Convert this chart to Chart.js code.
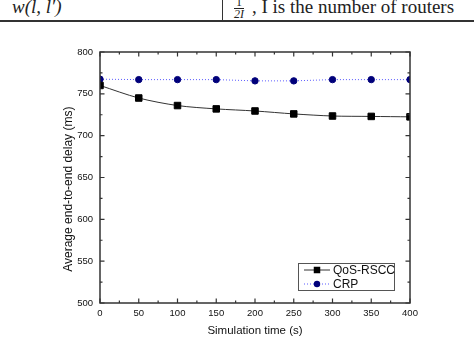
<!DOCTYPE html>
<html><head><meta charset="utf-8">
<script src="https://cdn.jsdelivr.net/npm/chart.js@4.4.1/dist/chart.umd.min.js"></script>
<style>
html,body{margin:0;padding:0;background:#fff;}
#wrap{position:relative;width:474px;height:361px;overflow:hidden;}
#c{position:absolute;left:0;top:0;}
.t{position:absolute;font-family:"Liberation Serif","DejaVu Serif",serif;color:#222;white-space:nowrap;}
</style></head>
<body><div id="wrap">
<div class="t" style="left:12px;top:-4px;font-size:19px;font-style:italic;">w(l, l′)</div>
<div class="t" style="left:234px;top:-3px;font-size:12px;line-height:11px;text-align:center;"><div style="border-bottom:1px solid #222;padding:0 1px;">1</div><div style="font-style:italic;">2I</div></div>
<div class="t" style="left:252px;top:-4px;font-size:19px;">, I is the number of routers</div>
<div style="position:absolute;left:0;top:20px;width:474px;height:41px;background:#fff;"></div>
<div style="position:absolute;left:222px;top:0;width:1px;height:21px;background:#333;"></div>
<div style="position:absolute;left:0;top:20px;width:474px;height:1.5px;background:#333;"></div>
<canvas id="c" width="474" height="361"></canvas>
</div>
<script>
const times = [0, 50, 100, 150, 200, 250, 300, 350, 400];
const qosRscc = [760, 745, 736, 732, 729.5, 726, 723.5, 723, 722.5];
const crp = [767.5, 767, 767, 767, 765.5, 765.5, 767, 767, 767];
const yTicks = [500, 550, 600, 650, 700, 750, 800];
const xTicks = [0, 50, 100, 150, 200, 250, 300, 350, 400];

const boxPlugin = {
  id: 'boxPlugin',
  afterDraw(chart) {
    const ctx = chart.ctx, a = chart.chartArea;
    const xs = chart.scales.x, ys = chart.scales.y;
    ctx.save();
    ctx.strokeStyle = '#333';
    ctx.lineWidth = 1.5;
    ctx.strokeRect(a.left, a.top, a.right - a.left, a.bottom - a.top);
    ctx.lineWidth = 1.2;
    ctx.beginPath();
    for (let v = 0; v <= 400; v += 25) {
      const px = xs.getPixelForValue(v);
      const L = (v % 50 === 0) ? 4.5 : 2.5;
      ctx.moveTo(px, a.bottom); ctx.lineTo(px, a.bottom - L);
      ctx.moveTo(px, a.top); ctx.lineTo(px, a.top + L);
    }
    for (let v = 500; v <= 800; v += 25) {
      const py = ys.getPixelForValue(v);
      const L = (v % 50 === 0) ? 4.5 : 2.5;
      ctx.moveTo(a.left, py); ctx.lineTo(a.left + L, py);
      ctx.moveTo(a.right, py); ctx.lineTo(a.right - L, py);
    }
    ctx.stroke();
    // legend
    const lx = 298, ly = 263, lw = 96, lh = 27;
    ctx.fillStyle = '#fff';
    ctx.fillRect(lx, ly, lw, lh);
    ctx.strokeStyle = '#555';
    ctx.lineWidth = 1;
    ctx.strokeRect(lx + 0.5, ly + 0.5, lw, lh);
    chart.data.datasets.forEach((ds, i) => {
      const cy = ly + 7 + i * 14;
      ctx.save();
      ctx.strokeStyle = ds.borderColor;
      ctx.lineWidth = ds.borderWidth;
      ctx.setLineDash(ds.borderDash || []);
      ctx.beginPath(); ctx.moveTo(lx + 6, cy); ctx.lineTo(lx + 32, cy); ctx.stroke();
      ctx.restore();
      ctx.fillStyle = ds.pointBackgroundColor;
      ctx.beginPath();
      if (ds.pointStyle === 'rect') { const s = ds.pointRadius * Math.SQRT1_2; ctx.rect(lx + 19 - s, cy - s, 2 * s, 2 * s); }
      else ctx.arc(lx + 19, cy, ds.pointRadius, 0, Math.PI * 2);
      ctx.fill();
      ctx.fillStyle = '#111';
      ctx.font = '12px "Liberation Sans", Arial, sans-serif';
      ctx.textBaseline = 'middle';
      ctx.textAlign = 'left';
      ctx.fillText(ds.label, lx + 35, cy + 0.5);
    });
    ctx.restore();
  }
};

new Chart(document.getElementById('c'), {
  type: 'line',
  data: {
    datasets: [
      { label: 'QoS-RSCC', data: times.map((t, i) => ({x: t, y: qosRscc[i]})),
        borderColor: '#333', borderWidth: 1, pointStyle: 'rect', pointRadius: 4.6,
        pointBackgroundColor: '#000', pointBorderColor: '#000', pointBorderWidth: 1, tension: 0.3 },
      { label: 'CRP', data: times.map((t, i) => ({x: t, y: crp[i]})),
        borderColor: '#5a5aff', borderWidth: 1, borderDash: [1, 2], pointStyle: 'circle', pointRadius: 3.2,
        pointBackgroundColor: '#00007a', pointBorderColor: '#00007a', pointBorderWidth: 1, tension: 0 }
    ]
  },
  options: {
    responsive: false, animation: false, devicePixelRatio: 1,
    layout: { padding: { left: 0, top: 52, right: 64, bottom: 0 } },
    plugins: { legend: { display: false }, tooltip: { enabled: false } },
    scales: {
      x: { type: 'linear', min: 0, max: 400,
        afterFit(s) { s.height = 58; },
        afterBuildTicks(s) { s.ticks = xTicks.map(v => ({value: v})); },
        grid: { display: false, drawTicks: false }, border: { display: false },
        ticks: { padding: 5, color: '#111', font: { size: 9.5, family: '"Liberation Sans", Arial, sans-serif' }, maxRotation: 0 },
        title: { display: true, text: 'Simulation time (s)', color: '#111', font: { size: 11.5, family: '"Liberation Sans", Arial, sans-serif' }, padding: { top: 0, bottom: 23 } } },
      y: { type: 'linear', min: 500, max: 800,
        afterFit(s) { s.width = 100; },
        afterBuildTicks(s) { s.ticks = yTicks.map(v => ({value: v})); },
        grid: { display: false, drawTicks: false }, border: { display: false },
        ticks: { padding: 7, color: '#111', font: { size: 9.5, family: '"Liberation Sans", Arial, sans-serif' } },
        title: { display: true, text: 'Average end-to-end delay (ms)' + '\u00A0'.repeat(7), color: '#111', font: { size: 12, family: '"Liberation Sans", Arial, sans-serif' }, padding: { top: 61, bottom: 0 } } }
    }
  },
  plugins: [boxPlugin]
});
</script>
</body></html>
